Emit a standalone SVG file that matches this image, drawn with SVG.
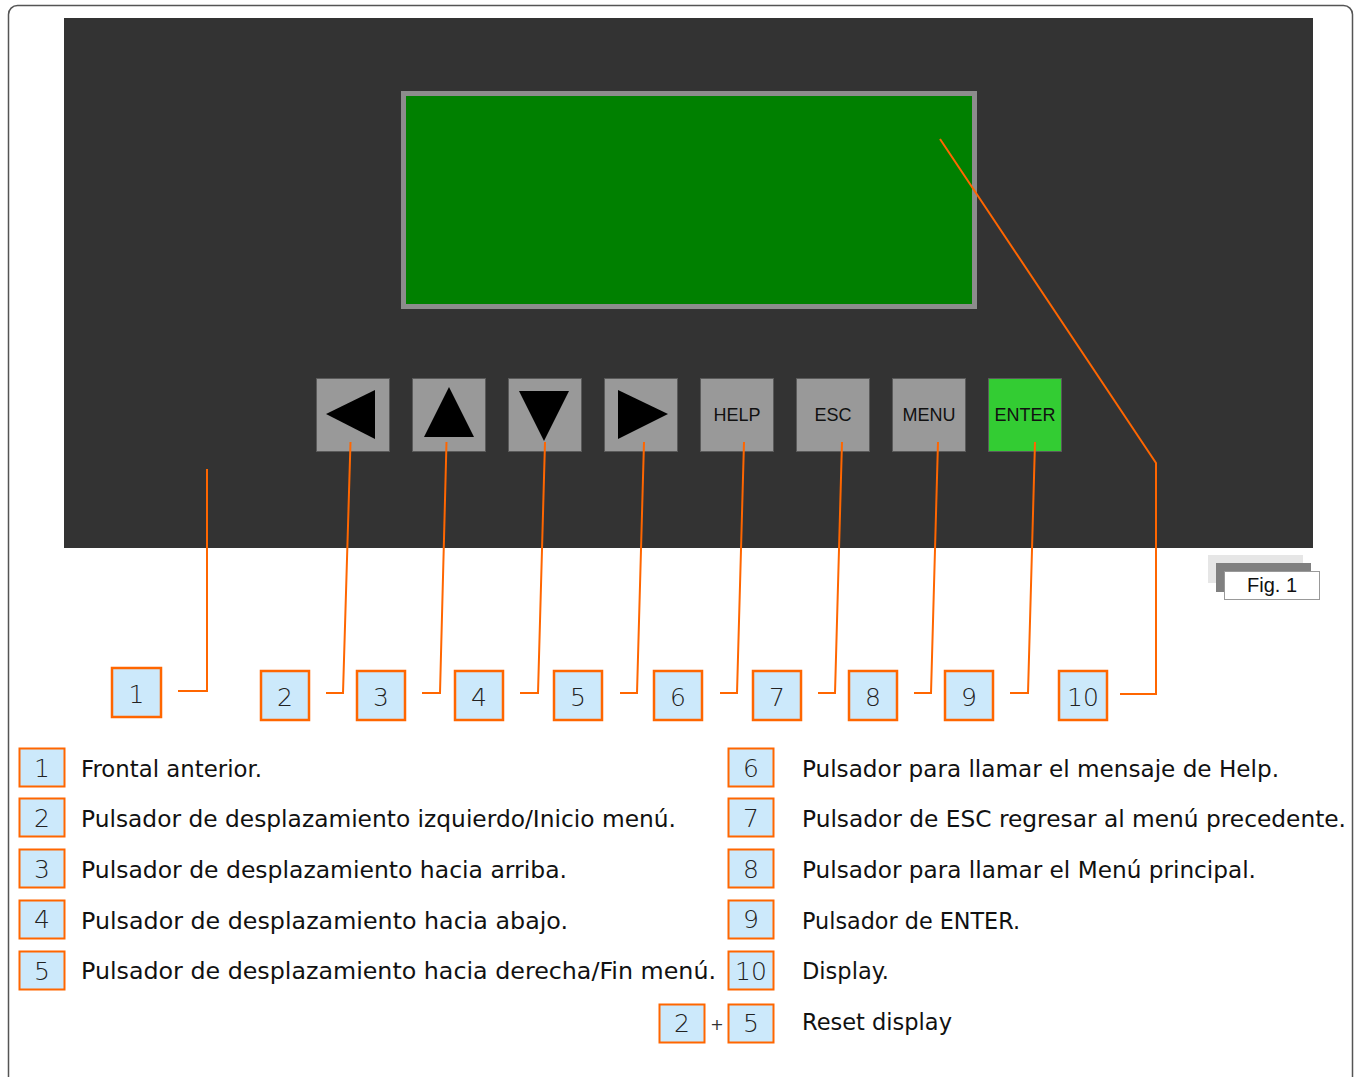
<svg xmlns="http://www.w3.org/2000/svg" width="1356" height="1077" viewBox="0 0 1356 1077">
<style>
.btn{fill:#999999;stroke:#5a5a5a;stroke-width:1}
.btxt{font-family:"Liberation Sans",Arial,sans-serif;font-size:18px;fill:#111;text-anchor:middle}
.tri{fill:#000}
.lead{fill:none;stroke:#ff6600;stroke-width:2}
.nbox{fill:#cce9fb;stroke:#ff6600;stroke-width:2.5}
.ntxt{font-family:"DejaVu Sans","Liberation Sans",sans-serif;font-size:25px;fill:#222;text-anchor:middle;font-weight:300}
.ltxt{font-family:"DejaVu Sans","Liberation Sans",sans-serif;font-size:23px;fill:#111}
</style>
<rect x="8.5" y="5.5" width="1344" height="1100" rx="9" fill="#fff" stroke="#555" stroke-width="1.5"/>
<g id="panel"><rect x="64" y="18" width="1249" height="530" fill="#333333"/></g>
<g id="display"><rect x="403.5" y="93.5" width="571" height="213" fill="#008000" stroke="#8c8c8c" stroke-width="5"/></g>
<g id="btn-left"><rect class="btn" x="316.5" y="378.5" width="73" height="73"/><polygon class="tri" points="326,414 375,390 375,439"/></g>
<g id="btn-up"><rect class="btn" x="412.5" y="378.5" width="73" height="73"/><polygon class="tri" points="449,387 424,437 474,437"/></g>
<g id="btn-down"><rect class="btn" x="508.5" y="378.5" width="73" height="73"/><polygon class="tri" points="519,391 569,391 544,441"/></g>
<g id="btn-right"><rect class="btn" x="604.5" y="378.5" width="73" height="73"/><polygon class="tri" points="618,390 618,439 668,414"/></g>
<g id="btn-help"><rect class="btn" x="700.5" y="378.5" width="73" height="73"/><text class="btxt" x="737" y="421">HELP</text></g>
<g id="btn-esc"><rect class="btn" x="796.5" y="378.5" width="73" height="73"/><text class="btxt" x="833" y="421">ESC</text></g>
<g id="btn-menu"><rect class="btn" x="892.5" y="378.5" width="73" height="73"/><text class="btxt" x="929" y="421">MENU</text></g>
<g id="btn-enter"><rect class="btn" x="988.5" y="378.5" width="73" height="73" style="fill:#33cc33"/><text class="btxt" x="1025" y="421">ENTER</text></g>
<g id="fig-label">
<rect x="1208" y="555" width="95" height="28" fill="#e6e6e6"/>
<rect x="1216" y="563" width="95" height="29" fill="#808080"/>
<rect x="1224.5" y="571.5" width="95" height="28" fill="#fff" stroke="#999" stroke-width="1"/>
<text x="1272" y="592" font-family="'Liberation Sans',Arial,sans-serif" font-size="20" text-anchor="middle" fill="#111">Fig. 1</text>
</g>
<g id="connectors">
<polyline class="lead" points="207,469 207,691 178,691"/>
<polyline class="lead" points="350.5,442 343,693 326,693"/>
<polyline class="lead" points="446.5,442 440,693 422,693"/>
<polyline class="lead" points="545,442 538,693 520,693"/>
<polyline class="lead" points="644,442 637,693 620,693"/>
<polyline class="lead" points="744,442 737,693 720,693"/>
<polyline class="lead" points="842,442 835,693 818,693"/>
<polyline class="lead" points="938,442 931,693 914,693"/>
<polyline class="lead" points="1035,442 1028,693 1010,693"/>
<polyline class="lead" points="940,139 1156,463 1156,694 1120,694"/>
</g>
<g id="n1"><rect class="nbox" x="112" y="668" width="49" height="49"/><text class="ntxt" x="136.5" y="703">1</text></g>
<g id="n2"><rect class="nbox" x="261" y="671" width="48" height="49"/><text class="ntxt" x="285" y="706">2</text></g>
<g id="n3"><rect class="nbox" x="357" y="671" width="48" height="49"/><text class="ntxt" x="381" y="706">3</text></g>
<g id="n4"><rect class="nbox" x="455" y="671" width="48" height="49"/><text class="ntxt" x="479" y="706">4</text></g>
<g id="n5"><rect class="nbox" x="554" y="671" width="48" height="49"/><text class="ntxt" x="578" y="706">5</text></g>
<g id="n6"><rect class="nbox" x="654" y="671" width="48" height="49"/><text class="ntxt" x="678" y="706">6</text></g>
<g id="n7"><rect class="nbox" x="753" y="671" width="48" height="49"/><text class="ntxt" x="777" y="706">7</text></g>
<g id="n8"><rect class="nbox" x="849" y="671" width="48" height="49"/><text class="ntxt" x="873" y="706">8</text></g>
<g id="n9"><rect class="nbox" x="945" y="671" width="48" height="49"/><text class="ntxt" x="969" y="706">9</text></g>
<g id="n10"><rect class="nbox" x="1059" y="671" width="48" height="49"/><text class="ntxt" x="1083" y="706">10</text></g>
<g id="legend">
<rect class="nbox" x="19.5" y="748.5" width="45" height="38" style="stroke-width:2"/><text class="ntxt" x="42" y="777">1</text>
<text class="ltxt" x="81" y="777" textLength="181" lengthAdjust="spacingAndGlyphs">Frontal anterior.</text>
<rect class="nbox" x="19.5" y="798.5" width="45" height="38" style="stroke-width:2"/><text class="ntxt" x="42" y="827">2</text>
<text class="ltxt" x="81" y="827" textLength="595" lengthAdjust="spacingAndGlyphs">Pulsador de desplazamiento izquierdo/Inicio menú.</text>
<rect class="nbox" x="19.5" y="849.5" width="45" height="38" style="stroke-width:2"/><text class="ntxt" x="42" y="878">3</text>
<text class="ltxt" x="81" y="878" textLength="486" lengthAdjust="spacingAndGlyphs">Pulsador de desplazamiento hacia arriba.</text>
<rect class="nbox" x="19.5" y="900.5" width="45" height="38" style="stroke-width:2"/><text class="ntxt" x="42" y="928">4</text>
<text class="ltxt" x="81" y="929" textLength="487" lengthAdjust="spacingAndGlyphs">Pulsador de desplazamiento hacia abajo.</text>
<rect class="nbox" x="19.5" y="951.5" width="45" height="38" style="stroke-width:2"/><text class="ntxt" x="42" y="980">5</text>
<text class="ltxt" x="81" y="979" textLength="635" lengthAdjust="spacingAndGlyphs">Pulsador de desplazamiento hacia derecha/Fin menú.</text>
<rect class="nbox" x="728.5" y="748.5" width="45" height="38" style="stroke-width:2"/><text class="ntxt" x="751" y="777">6</text>
<text class="ltxt" x="802" y="777" textLength="477" lengthAdjust="spacingAndGlyphs">Pulsador para llamar el mensaje de Help.</text>
<rect class="nbox" x="728.5" y="798.5" width="45" height="38" style="stroke-width:2"/><text class="ntxt" x="751" y="827">7</text>
<text class="ltxt" x="802" y="827" textLength="544" lengthAdjust="spacingAndGlyphs">Pulsador de ESC regresar al menú precedente.</text>
<rect class="nbox" x="728.5" y="849.5" width="45" height="38" style="stroke-width:2"/><text class="ntxt" x="751" y="878">8</text>
<text class="ltxt" x="802" y="878" textLength="454" lengthAdjust="spacingAndGlyphs">Pulsador para llamar el Menú principal.</text>
<rect class="nbox" x="728.5" y="900.5" width="45" height="38" style="stroke-width:2"/><text class="ntxt" x="751" y="928">9</text>
<text class="ltxt" x="802" y="929" textLength="218" lengthAdjust="spacingAndGlyphs">Pulsador de ENTER.</text>
<rect class="nbox" x="728.5" y="951.5" width="45" height="38" style="stroke-width:2"/><text class="ntxt" x="751" y="980">10</text>
<text class="ltxt" x="802" y="979" textLength="87" lengthAdjust="spacingAndGlyphs">Display.</text>
<rect class="nbox" x="659.5" y="1004.5" width="45" height="38" style="stroke-width:2"/><text class="ntxt" x="682" y="1032">2</text>
<text x="717" y="1030" font-family="'DejaVu Sans',sans-serif" font-size="16" text-anchor="middle" fill="#333">+</text>
<rect class="nbox" x="728.5" y="1004.5" width="45" height="38" style="stroke-width:2"/><text class="ntxt" x="751" y="1032">5</text>
<text class="ltxt" x="802" y="1030" textLength="150" lengthAdjust="spacingAndGlyphs">Reset display</text>
</g>
</svg>
